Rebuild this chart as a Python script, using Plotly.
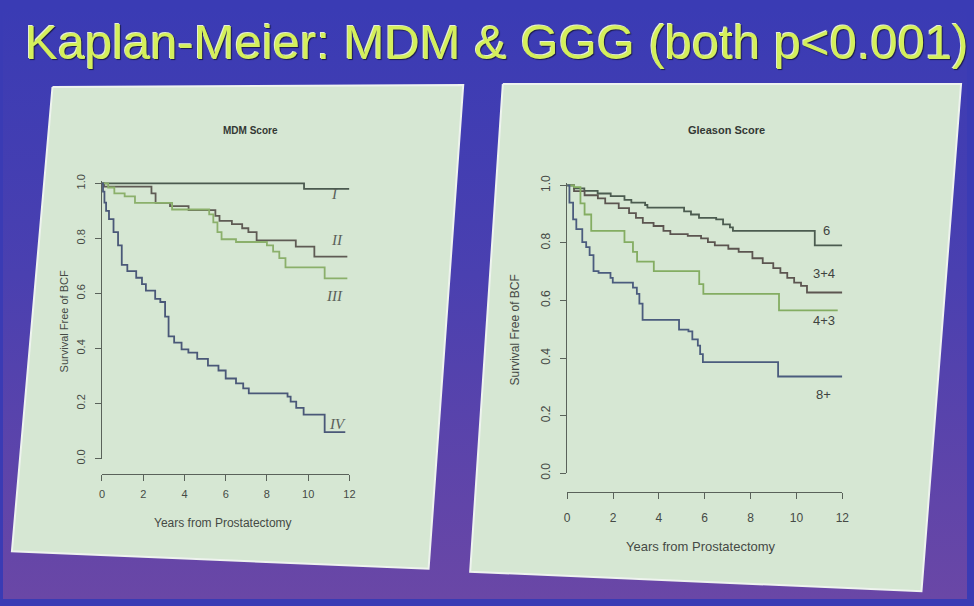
import plotly.graph_objects as go

# -----------------------------
# Colours
# -----------------------------
BG_TOP = "#3a3bb4"
BG_BOTTOM = "#6a47a6"
PANEL = "#d6e7d3"
PANEL_EDGE = "#eef3ee"
AXIS = "#5a625a"
TEXT = "#454a45"
TITLE = "#d4ef5c"

W, H = 974, 606

# -----------------------------
# Data
# -----------------------------
# MDM score curves
mdm_I_t = [0, 9.8, 12.0]
mdm_I_s = [1.0, 0.98, 0.98]

mdm_II_t = [0, 0.1, 2.4, 2.6, 3.3, 4.2, 5.5, 5.7, 6.3, 6.8, 7.1, 7.5, 9.4, 10.3, 11.9]
mdm_II_s = [1.0, 0.988, 0.964, 0.929, 0.917, 0.903, 0.882, 0.864, 0.852, 0.837,
            0.823, 0.793, 0.770, 0.734, 0.734]

mdm_III_t = [0, 0.3, 0.6, 1.1, 1.6, 3.4, 5.2, 5.4, 5.6, 5.8, 6.5, 8.0, 8.3, 8.6,
             8.9, 10.8, 11.9]
mdm_III_s = [1.0, 0.985, 0.964, 0.953, 0.929, 0.905, 0.887, 0.858, 0.823, 0.797,
             0.787, 0.775, 0.752, 0.728, 0.695, 0.655, 0.655]

mdm_IV_t = [0, 0.05, 0.12, 0.2, 0.34, 0.56, 0.78, 0.96, 1.23, 1.66, 1.94, 2.13,
            2.58, 2.83, 3.06, 3.23, 3.5, 3.86, 4.19, 4.62, 5.14, 5.65, 6.0, 6.5,
            6.85, 7.12, 9.0, 9.15, 9.42, 9.78, 10.8, 11.8]
mdm_IV_s = [1.0, 0.97, 0.93, 0.90, 0.87, 0.823, 0.775, 0.704, 0.681, 0.657,
            0.634, 0.610, 0.580, 0.569, 0.516, 0.444, 0.421, 0.397, 0.385, 0.362,
            0.338, 0.320, 0.291, 0.273, 0.255, 0.237, 0.225, 0.207, 0.184, 0.160,
            0.096, 0.096]

# Gleason score curves
gl_6_t = [0, 0.3, 0.75, 1.33, 1.9, 2.5, 2.8, 3.4, 3.5, 5.1, 5.4, 5.75, 6.5, 6.8,
          7.1, 7.23, 10.8, 12.0]
gl_6_s = [1.0, 0.99, 0.981, 0.972, 0.963, 0.950, 0.940, 0.932, 0.923, 0.910,
          0.899, 0.887, 0.882, 0.865, 0.854, 0.842, 0.792, 0.792]

gl_34_t = [0, 0.3, 0.76, 1.34, 1.66, 2.25, 2.7, 3.0, 3.3, 3.77, 4.2, 4.5, 5.26,
           5.84, 6.14, 6.44, 7.03, 7.48, 8.08, 8.53, 8.99, 9.3, 9.6, 9.9, 10.2,
           10.46, 12.0]
gl_34_s = [1.0, 0.98, 0.966, 0.955, 0.938, 0.921, 0.904, 0.887, 0.870, 0.859,
           0.842, 0.831, 0.825, 0.816, 0.803, 0.792, 0.780, 0.769, 0.747, 0.730,
           0.713, 0.696, 0.679, 0.662, 0.651, 0.628, 0.628]

gl_43_t = [0, 0.3, 0.58, 0.76, 1.05, 2.5, 2.87, 3.05, 3.78, 5.76, 5.94, 9.24, 11.8]
gl_43_s = [1.0, 0.994, 0.938, 0.899, 0.842, 0.803, 0.769, 0.735, 0.702, 0.657,
           0.623, 0.566, 0.566]

gl_8_t = [0, 0.1, 0.26, 0.4, 0.66, 0.83, 0.98, 1.15, 1.37, 1.89, 1.99, 2.87,
          3.04, 3.15, 3.29, 4.88, 5.29, 5.46, 5.7, 5.8, 5.92, 9.2, 12.0]
gl_8_s = [1.0, 0.94, 0.882, 0.848, 0.803, 0.786, 0.758, 0.702, 0.696, 0.679,
          0.662, 0.645, 0.623, 0.589, 0.533, 0.499, 0.493, 0.465, 0.443, 0.414,
          0.386, 0.336, 0.336]

# curve labels: (text, x, y)
mdm_labels = [("I", 11.3, 0.962), ("II", 11.4, 0.795), ("III", 11.3, 0.59),
              ("IV", 11.4, 0.125)]
gl_labels = [("6", 11.3, 0.845), ("3+4", 11.2, 0.695), ("4+3", 11.2, 0.532),
             ("8+", 11.2, 0.275)]

x_ticks = [0, 2, 4, 6, 8, 10, 12]
y_ticks = [0.0, 0.2, 0.4, 0.6, 0.8, 1.0]
y_tick_text = ["0.0", "0.2", "0.4", "0.6", "0.8", "1.0"]

# panel outlines in screen pixels (photo is slightly skewed)
left_panel_px = [(50, 81), (465, 79), (430, 575), (9, 557)]
right_panel_px = [(505, 78), (968, 78), (928, 598), (472, 578)]

fig = go.Figure()

# -----------------------------
# Slide background + panels (full-page helper axes)
# -----------------------------
fig.add_trace(go.Scatter(
    x=[0, W, W, 0, 0], y=[0, 0, H, H, 0],
    fill="toself", mode="none", hoverinfo="skip", showlegend=False,
    fillgradient=dict(type="vertical",
                      colorscale=[[0, BG_BOTTOM], [0.55, "#4a40b0"], [1, BG_TOP]]),
    xaxis="x", yaxis="y"
))

for pts in (left_panel_px, right_panel_px):
    xs = [p[0] for p in pts] + [pts[0][0]]
    ys = [p[1] for p in pts] + [pts[0][1]]
    fig.add_trace(go.Scatter(
        x=xs, y=ys, fill="toself", fillcolor=PANEL, mode="lines",
        line=dict(color=PANEL_EDGE, width=2), hoverinfo="skip",
        showlegend=False, xaxis="x", yaxis="y"
    ))

# -----------------------------
# Kaplan-Meier curves
# -----------------------------
def km(t, s, color, ax):
    xa, ya = ax
    fig.add_trace(go.Scatter(
        x=t, y=s, mode="lines", line=dict(color=color, width=1.8, shape="hv"),
        showlegend=False, hoverinfo="skip", xaxis=xa, yaxis=ya
    ))


km(mdm_I_t, mdm_I_s, "#4b5a4f", ("x2", "y2"))
km(mdm_II_t, mdm_II_s, "#5f5b54", ("x2", "y2"))
km(mdm_III_t, mdm_III_s, "#8bb06b", ("x2", "y2"))
km(mdm_IV_t, mdm_IV_s, "#4a5878", ("x2", "y2"))

km(gl_6_t, gl_6_s, "#4c5c50", ("x3", "y3"))
km(gl_34_t, gl_34_s, "#5c5550", ("x3", "y3"))
km(gl_43_t, gl_43_s, "#84ad62", ("x3", "y3"))
km(gl_8_t, gl_8_s, "#4b5c7e", ("x3", "y3"))

# -----------------------------
# Axes
# -----------------------------
def px_x(p):
    return p / W


def px_y(p):
    return 1 - p / H


def x_axis(size, standoff):
    return dict(range=[0, 12], tickvals=x_ticks, showline=True, linecolor=AXIS,
                linewidth=1.2, ticks="outside", ticklen=6, tickcolor=AXIS,
                ticklabelstandoff=standoff,
                tickfont=dict(family="Liberation Sans", size=size, color=TEXT),
                showgrid=False, zeroline=False, anchor="free")


def y_axis(size):
    return dict(range=[0, 1.01], tickvals=y_ticks, ticktext=y_tick_text,
                tickangle=-90, showline=True, linecolor=AXIS, linewidth=1.2,
                ticks="outside", ticklen=6, tickcolor=AXIS, ticklabelstandoff=5,
                tickfont=dict(family="Liberation Sans", size=size, color=TEXT),
                showgrid=False, zeroline=False)


fig.update_layout(
    width=W, height=H,
    margin=dict(l=0, r=0, t=0, b=0),
    paper_bgcolor=BG_TOP,
    plot_bgcolor="rgba(0,0,0,0)",
    xaxis=dict(domain=[0, 1], range=[0, W], visible=False, fixedrange=True),
    yaxis=dict(domain=[0, 1], range=[H, 0], visible=False, fixedrange=True),
    xaxis2=dict(domain=[px_x(100), px_x(350)], position=px_y(478), **x_axis(11, 4)),
    yaxis2=dict(domain=[px_y(462), px_y(177)], anchor="x2", **y_axis(11)),
    xaxis3=dict(domain=[px_x(570), px_x(848)], position=px_y(496), **x_axis(12, 9)),
    yaxis3=dict(domain=[px_y(477), px_y(179)], anchor="x3", **y_axis(12)),
)

# -----------------------------
# Text
# -----------------------------
ann = [
    dict(text="Kaplan-Meier: MDM &amp; GGG (both p&lt;0.001)", x=px_x(499), y=px_y(35),
         font=dict(family="Liberation Sans", size=49, color=TITLE,
                   shadow="1px 1px 1px #1c1c4a, -1px -1px 0px #e6f0d2")),
    dict(text="<b>MDM Score</b>", x=px_x(250), y=px_y(126),
         font=dict(family="Liberation Sans", size=10, color="#333833")),
    dict(text="<b>Gleason Score</b>", x=px_x(731), y=px_y(125),
         font=dict(family="Liberation Sans", size=11, color="#333833")),
    dict(text="Years from Prostatectomy", x=px_x(222), y=px_y(528),
         font=dict(family="Liberation Sans", size=12, color=TEXT)),
    dict(text="Years from Prostatectomy", x=px_x(705), y=px_y(552),
         font=dict(family="Liberation Sans", size=13, color=TEXT)),
    dict(text="Survival Free of BCF", x=px_x(62), y=px_y(321), textangle=-90,
         font=dict(family="Liberation Sans", size=11, color=TEXT)),
    dict(text="Survival Free of BCF", x=px_x(517), y=px_y(330), textangle=-90,
         font=dict(family="Liberation Sans", size=12, color=TEXT)),
]
for a in ann:
    fig.add_annotation(xref="paper", yref="paper", showarrow=False,
                       xanchor="center", yanchor="middle", **a)

for txt, lx, ly in mdm_labels:
    fig.add_annotation(text=f"<i>{txt}</i>", x=lx, y=ly, xref="x2", yref="y2",
                       showarrow=False,
                       font=dict(family="Liberation Serif", size=15, color="#5a5f5a"))
for txt, lx, ly in gl_labels:
    fig.add_annotation(text=txt, x=lx, y=ly, xref="x3", yref="y3",
                       showarrow=False,
                       font=dict(family="Liberation Sans", size=13, color="#3f433f"))

# the page body has a default 8px margin; drop it so the slide fills the window
fig.write_html("out.html",
               config={"displayModeBar": False},
               post_script="document.body.style.margin='0';"
                           "document.body.style.overflow='hidden';")
